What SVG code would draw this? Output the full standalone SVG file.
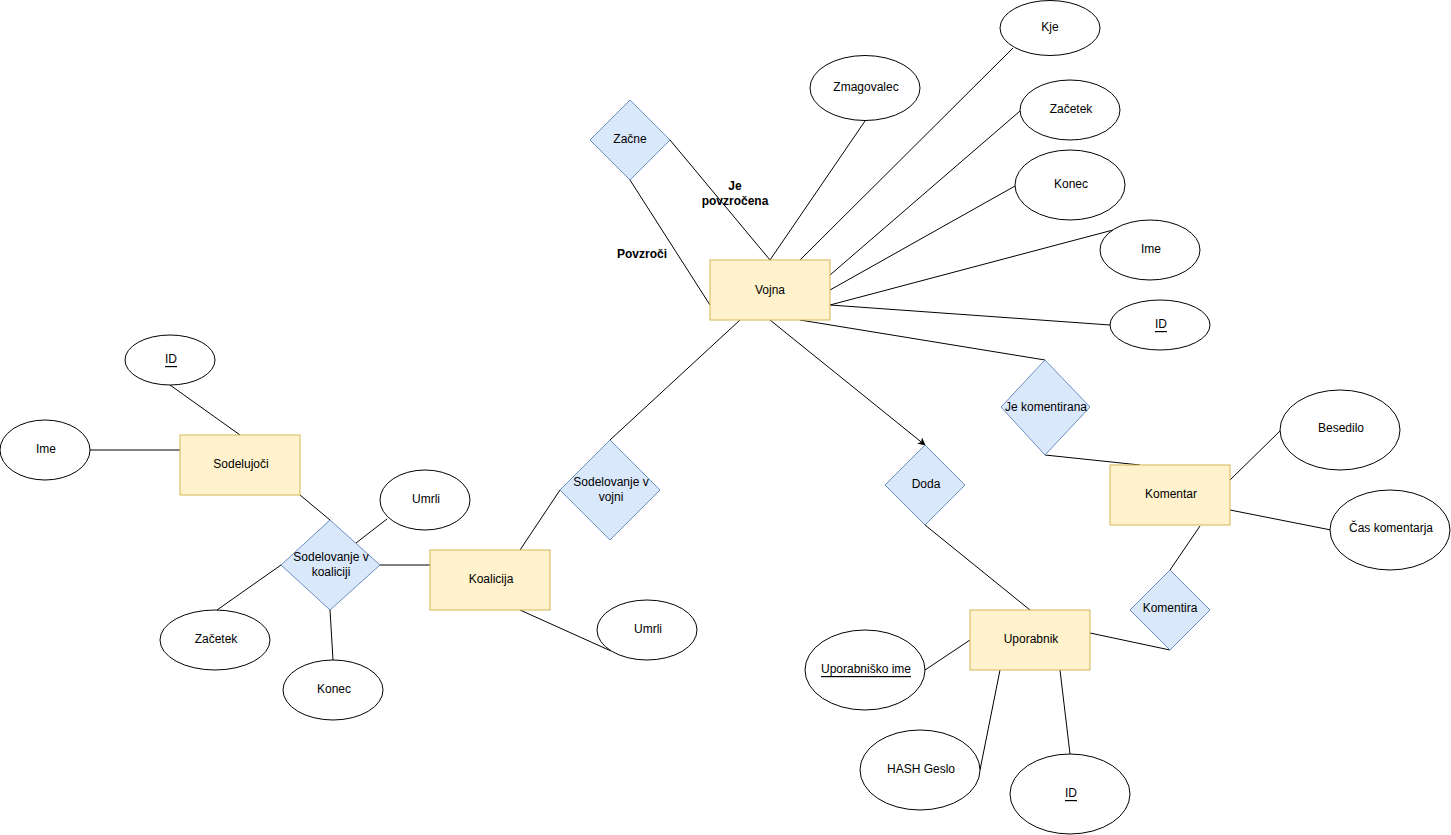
<svg xmlns="http://www.w3.org/2000/svg" width="1451" height="835" viewBox="0 0 1451 835">
<style>
.ent{fill:#fff2cc;stroke:#d6b656;stroke-width:1}
.rel{fill:#dae8fc;stroke:#6c8ebf;stroke-width:1}
.att{fill:#ffffff;stroke:#000000;stroke-width:1}
text{font-family:"Liberation Sans",Arial,sans-serif;font-size:12px;fill:#000;text-anchor:middle;dominant-baseline:central}
.b{font-weight:bold}
.u{text-decoration:underline}
#edges line{stroke:#000;stroke-width:1;fill:none}
</style>
<defs>
<marker id="arr" viewBox="0 0 10 10" refX="9" refY="5" markerWidth="8" markerHeight="8" orient="auto" markerUnits="userSpaceOnUse">
<path d="M0,0 L10,5 L0,10 L3,5 Z" fill="#000"/>
</marker>
</defs>
<rect width="1451" height="835" fill="#ffffff"/>
<g id="edges">
<line x1="670" y1="140" x2="770" y2="260"/>
<line x1="630" y1="180" x2="710" y2="305"/>
<line x1="865" y1="121" x2="770" y2="260"/>
<line x1="1013" y1="48" x2="800" y2="260"/>
<line x1="1020" y1="111" x2="830" y2="275"/>
<line x1="1015" y1="186" x2="830" y2="290"/>
<line x1="1113" y1="230" x2="830" y2="305"/>
<line x1="830" y1="305" x2="1110" y2="325"/>
<line x1="800" y1="320" x2="1045" y2="360"/>
<line x1="1045" y1="455" x2="1140" y2="465"/>
<line x1="1230" y1="480" x2="1280" y2="431"/>
<line x1="1230" y1="510" x2="1331" y2="530"/>
<line x1="1200" y1="526" x2="1170" y2="570"/>
<line x1="770" y1="320" x2="925" y2="445" marker-end="url(#arr)"/>
<line x1="925" y1="525" x2="1030" y2="610"/>
<line x1="1090" y1="633" x2="1170" y2="650"/>
<line x1="925" y1="670" x2="970" y2="640"/>
<line x1="980" y1="770" x2="1000" y2="670"/>
<line x1="1070" y1="754" x2="1060" y2="670"/>
<line x1="740" y1="320" x2="610" y2="440"/>
<line x1="560" y1="490" x2="520" y2="550"/>
<line x1="520" y1="610" x2="611" y2="651"/>
<line x1="170" y1="385" x2="240" y2="435"/>
<line x1="90" y1="450" x2="180" y2="450"/>
<line x1="300" y1="495" x2="330" y2="520"/>
<line x1="387" y1="519" x2="356" y2="543"/>
<line x1="380" y1="565" x2="430" y2="565"/>
<line x1="217" y1="610" x2="281" y2="565"/>
<line x1="330" y1="610" x2="333" y2="660"/>
<text class="b" x="735" y="186">Je</text>
<text class="b" x="735" y="201">povzročena</text>
<text class="b" x="642" y="254">Povzroči</text>
</g>
<g id="zacne"><polygon class="rel" points="630,100 670,140 630,180 590,140"/><text x="630" y="139">Začne</text></g>
<g id="vojna"><rect class="ent" x="710" y="260" width="120" height="60"/><text x="770" y="290">Vojna</text></g>
<g id="zmagovalec"><ellipse class="att" cx="865" cy="88" rx="55" ry="32.5"/><text x="866" y="87">Zmagovalec</text></g>
<g id="kje"><ellipse class="att" cx="1050" cy="28" rx="50" ry="27.5"/><text x="1050" y="27">Kje</text></g>
<g id="zacetek1"><ellipse class="att" cx="1070" cy="110" rx="50" ry="30"/><text x="1071" y="109">Začetek</text></g>
<g id="konec1"><ellipse class="att" cx="1070" cy="185" rx="55" ry="35"/><text x="1071" y="184">Konec</text></g>
<g id="ime1"><ellipse class="att" cx="1150" cy="250" rx="50" ry="30"/><text x="1151" y="249">Ime</text></g>
<g id="id1"><ellipse class="att" cx="1160" cy="325" rx="50" ry="25"/><text class="u" x="1161" y="324">ID</text></g>
<g id="jekomentirana"><polygon class="rel" points="1045,360 1090,407 1045,455 1001,407"/><text x="1046" y="407">Je komentirana</text></g>
<g id="komentar"><rect class="ent" x="1110" y="465" width="120" height="60"/><text x="1171" y="494">Komentar</text></g>
<g id="besedilo"><ellipse class="att" cx="1340" cy="430" rx="60" ry="40"/><text x="1341" y="428">Besedilo</text></g>
<g id="caskomentarja"><ellipse class="att" cx="1390" cy="530" rx="60" ry="40"/><text x="1391" y="528">Čas komentarja</text></g>
<g id="komentira"><polygon class="rel" points="1170,570 1210,610 1170,650 1130,610"/><text x="1170" y="608">Komentira</text></g>
<g id="doda"><polygon class="rel" points="925,445 965,485 925,525 885,485"/><text x="926" y="484">Doda</text></g>
<g id="uporabnik"><rect class="ent" x="970" y="610" width="120" height="60"/><text x="1031" y="639">Uporabnik</text></g>
<g id="uporabniskoime"><ellipse class="att" cx="865" cy="670" rx="60" ry="40"/><text class="u" x="866" y="669">Uporabniško ime</text></g>
<g id="hashgeslo"><ellipse class="att" cx="920" cy="770" rx="60" ry="40"/><text x="921" y="769">HASH Geslo</text></g>
<g id="id3"><ellipse class="att" cx="1070" cy="794" rx="60" ry="40"/><text class="u" x="1071" y="793">ID</text></g>
<g id="sodelovanjevojni"><polygon class="rel" points="610,440 660,490 610,540 560,490"/><text x="611" y="482">Sodelovanje v</text><text x="611" y="497">vojni</text></g>
<g id="koalicija"><rect class="ent" x="430" y="550" width="120" height="60"/><text x="491" y="579">Koalicija</text></g>
<g id="umrli2"><ellipse class="att" cx="647" cy="630" rx="50" ry="30"/><text x="648" y="629">Umrli</text></g>
<g id="sodelujoci"><rect class="ent" x="180" y="435" width="120" height="60"/><text x="241" y="464">Sodelujoči</text></g>
<g id="id2"><ellipse class="att" cx="170" cy="360" rx="45" ry="25"/><text class="u" x="171" y="359">ID</text></g>
<g id="ime2"><ellipse class="att" cx="45" cy="450" rx="45" ry="30"/><text x="46" y="449">Ime</text></g>
<g id="sodelovanjekoaliciji"><polygon class="rel" points="330,520 380,565 330,610 281,565"/><text x="331" y="557">Sodelovanje v</text><text x="331" y="572">koaliciji</text></g>
<g id="umrli1"><ellipse class="att" cx="425" cy="500" rx="45" ry="30"/><text x="426" y="499">Umrli</text></g>
<g id="zacetek2"><ellipse class="att" cx="215" cy="640" rx="55" ry="30"/><text x="216" y="639">Začetek</text></g>
<g id="konec2"><ellipse class="att" cx="333" cy="690" rx="50" ry="30"/><text x="334" y="689">Konec</text></g>
</svg>
